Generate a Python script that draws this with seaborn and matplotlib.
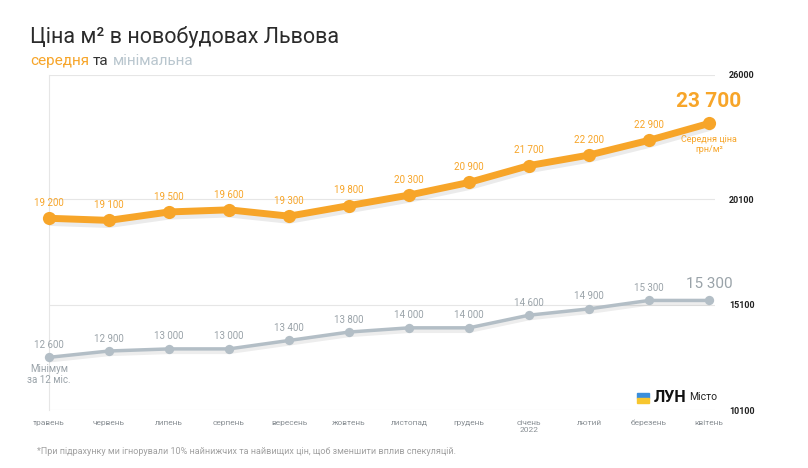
import numpy as np
import pandas as pd
import matplotlib.pyplot as plt
import matplotlib.patheffects as pe
import seaborn as sns

months = ['травень', 'червень', 'липень', 'серпень', 'вересень', 'жовтень',
          'листопад', 'грудень', 'січень\n2022', 'лютий', 'березень', 'квітень']
avg_price = [19200, 19100, 19500, 19600, 19300, 19800, 20300, 20900, 21700, 22200, 22900, 23700]
min_price = [12600, 12900, 13000, 13000, 13400, 13800, 14000, 14000, 14600, 14900, 15300, 15300]
y_ticks = [10100, 15100, 20100, 26000]

ORANGE = '#F7A529'
GREY = '#B3BEC6'
GREY_TXT = '#9AA3A9'

sns.set_theme(style='white')
plt.rcParams['font.family'] = ['Roboto', 'DejaVu Sans']

df = pd.DataFrame({'idx': range(len(months)), 'avg': avg_price, 'min': min_price})

fig = plt.figure(figsize=(8.08, 4.68), dpi=100)
ax = fig.add_axes([49 / 808, 58 / 468, (715 - 49) / 808, 335 / 468])

# lines with a soft shadow, markers drawn separately
shadow = [pe.SimpleLineShadow(offset=(0, -2.5), shadow_color='#000000', alpha=0.08, linewidth=6), pe.Normal()]
sns.lineplot(data=df, x='idx', y='avg', ax=ax, color=ORANGE, linewidth=5, path_effects=shadow, zorder=3)
sns.scatterplot(data=df, x='idx', y='avg', ax=ax, color=ORANGE, s=90, linewidth=0, zorder=4, clip_on=False)
shadow2 = [pe.SimpleLineShadow(offset=(0, -2), shadow_color='#000000', alpha=0.07, linewidth=3.5), pe.Normal()]
sns.lineplot(data=df, x='idx', y='min', ax=ax, color=GREY, linewidth=2.5, path_effects=shadow2, zorder=3)
sns.scatterplot(data=df, x='idx', y='min', ax=ax, color=GREY, s=45, linewidth=0, zorder=4, clip_on=False)

def fmt(v):
    return f'{v:,}'.replace(',', ' ')

n = len(months)
for i in range(n - 1):
    ax.annotate(fmt(avg_price[i]), (i, avg_price[i]), xytext=(0, 11), textcoords='offset points',
                ha='center', va='center', fontsize=7, color=ORANGE)
    ax.annotate(fmt(min_price[i]), (i, min_price[i]), xytext=(0, 9), textcoords='offset points',
                ha='center', va='center', fontsize=7, color=GREY_TXT)
ax.annotate(fmt(avg_price[-1]), (n - 1, avg_price[-1]), xytext=(0, 16), textcoords='offset points',
            ha='center', va='center', fontsize=15, fontweight='bold', color=ORANGE)
ax.annotate('Середня ціна\nгрн/м²', (n - 1, avg_price[-1]), xytext=(0, -8), textcoords='offset points',
            ha='center', va='top', fontsize=6.5, color=ORANGE, linespacing=1.2)
ax.annotate(fmt(min_price[-1]), (n - 1, min_price[-1]), xytext=(0, 12), textcoords='offset points',
            ha='center', va='center', fontsize=11, color=GREY_TXT)
ax.annotate('Мінімум\nза 12 міс.', (0, min_price[0]), xytext=(0, -5), textcoords='offset points',
            ha='center', va='top', fontsize=7, color=GREY_TXT, linespacing=1.1)

ax.set_xlim(0, 11.1)
ax.set_ylim(y_ticks[0], y_ticks[-1])
ax.set_xticks(range(n))
ax.set_xticklabels(months, fontsize=6, color='#8A9095')
ax.tick_params(axis='x', length=0, pad=7)
ax.set_yticks(y_ticks)
ax.yaxis.tick_right()
ax.set_yticklabels([str(t) for t in y_ticks], fontsize=6.5, fontweight='bold', color='#222222')
ax.tick_params(axis='y', length=0, pad=10)
ax.grid(axis='y', color='#E6E6E6', linewidth=0.8)
ax.set_xlabel('')
ax.set_ylabel('')
for s in ['top', 'right', 'bottom']:
    ax.spines[s].set_visible(False)
ax.spines['left'].set_color('#E6E6E6')
ax.spines['left'].set_linewidth(0.8)

fig.text(30 / 808, 1 - 37 / 468, 'Ціна м² в новобудовах Львова', fontsize=15.5, color='#2B2B2B',
         ha='left', va='center')
t1 = fig.text(30 / 808, 1 - 61 / 468, 'середня', fontsize=11, color=ORANGE, ha='left', va='center')
fig.canvas.draw()
bb = t1.get_window_extent()
t2 = fig.text(bb.x1 / 808 + 4 / 808, 1 - 61 / 468, 'та', fontsize=11, color='#333333', ha='left', va='center')
bb2 = t2.get_window_extent()
fig.text(bb2.x1 / 808 + 4 / 808, 1 - 61 / 468, 'мінімальна', fontsize=11, color='#B9C6CE', ha='left', va='center')

fig.text(37 / 808, 1 - 452 / 468, '*При підрахунку ми ігнорували 10% найнижчих та найвищих цін, щоб зменшити вплив спекуляцій.',
         fontsize=6.5, color='#A0A0A0', ha='left', va='center')

# logo
fig.patches.append(plt.Rectangle((637 / 808, 1 - 398 / 468), 12 / 808, 5 / 468, transform=fig.transFigure,
                                 color='#3A8EDB', figure=fig))
fig.patches.append(plt.Rectangle((637 / 808, 1 - 403 / 468), 12 / 808, 5 / 468, transform=fig.transFigure,
                                 color='#F7C62F', figure=fig))
lg = fig.text(654 / 808, 1 - 397 / 468, 'ЛУН', fontsize=11.5, fontweight='bold', color='#111111',
              ha='left', va='center')
bb3 = lg.get_window_extent(renderer=fig.canvas.get_renderer())
fig.text(bb3.x1 / 808 + 3 / 808, 1 - 397 / 468, 'Місто', fontsize=7.5, color='#222222', ha='left', va='center')

fig.savefig('out.png', dpi=100)
